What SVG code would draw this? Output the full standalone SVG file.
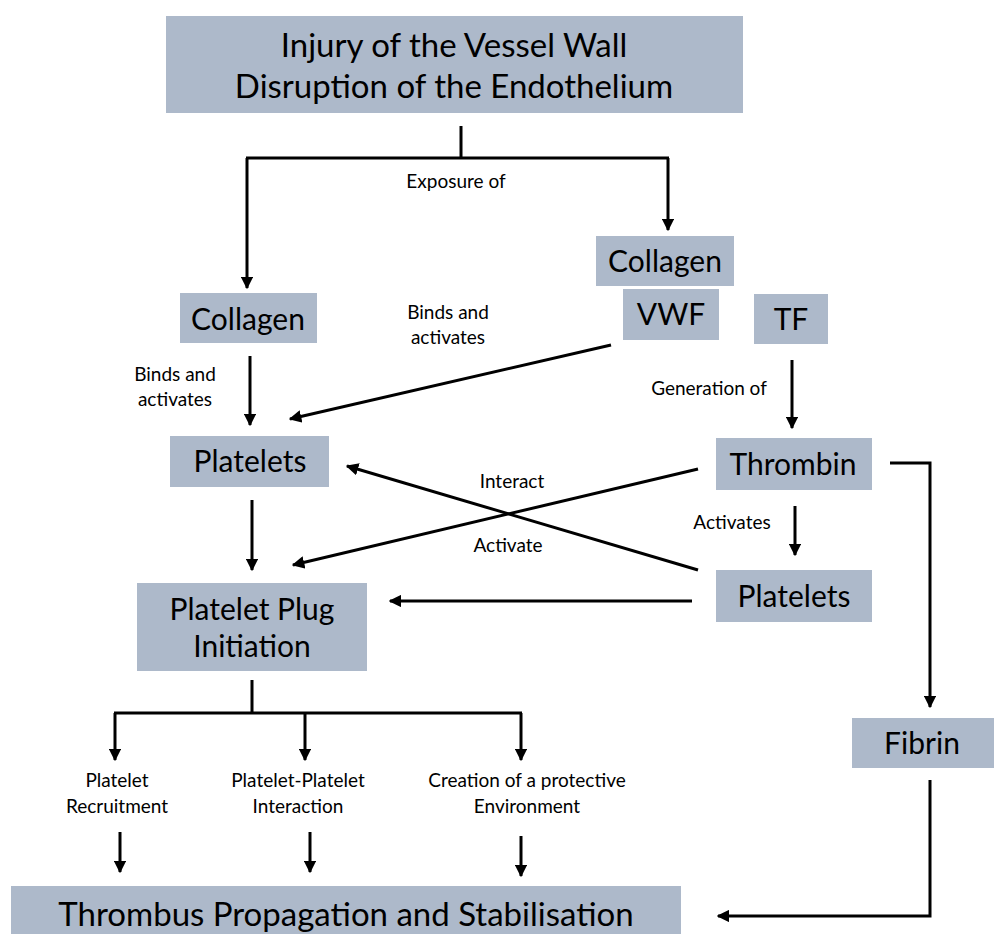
<svg xmlns="http://www.w3.org/2000/svg" width="994" height="934" viewBox="0 0 994 934">
<defs>
<marker id="ah" viewBox="0 0 10 10" refX="9" refY="5" markerWidth="4.2" markerHeight="4.2" orient="auto" markerUnits="strokeWidth">
<path d="M0,0 L10,5 L0,10 z" fill="#000"/>
</marker>
</defs>
<style>
.box{fill:#adb9ca}
.big{font-family:Lato,"Open Sans","Liberation Sans",sans-serif;font-size:33px;fill:#000;text-anchor:middle}
.mid{font-family:Lato,"Open Sans","Liberation Sans",sans-serif;font-size:30px;fill:#000;text-anchor:middle}
.sm{font-family:Lato,"Open Sans","Liberation Sans",sans-serif;font-size:19px;fill:#000;text-anchor:middle}
.c{fill:none;stroke:#000;stroke-width:3}
.a{fill:none;stroke:#000;stroke-width:3;marker-end:url(#ah)}
</style>
<rect width="994" height="934" fill="#fff"/>
<g id="injury"><rect class="box" x="166" y="16" width="577" height="97"/><text class="big" x="454" y="57">Injury of the Vessel Wall</text><text class="big" x="454" y="98">Disruption of the Endothelium</text></g>
<g id="collagen-right"><rect class="box" x="596" y="236" width="138" height="50"/><text class="mid" x="665" y="272">Collagen</text></g>
<g id="vwf"><rect class="box" x="623" y="289" width="96" height="51"/><text class="mid" x="671" y="325">VWF</text></g>
<g id="tf"><rect class="box" x="754" y="294" width="74" height="50"/><text class="mid" x="791" y="330">TF</text></g>
<g id="collagen-left"><rect class="box" x="180" y="293" width="137" height="50"/><text class="mid" x="248" y="330">Collagen</text></g>
<g id="platelets-left"><rect class="box" x="170" y="436" width="159" height="51"/><text class="mid" x="250" y="472">Platelets</text></g>
<g id="thrombin"><rect class="box" x="716" y="438" width="156" height="52"/><text class="mid" x="793" y="475">Thrombin</text></g>
<g id="platelets-right"><rect class="box" x="716" y="570" width="156" height="52"/><text class="mid" x="794" y="607">Platelets</text></g>
<g id="plug"><rect class="box" x="137" y="583" width="230" height="88"/><text class="mid" x="252" y="620">Platelet Plug</text><text class="mid" x="252" y="657">Initiation</text></g>
<g id="fibrin"><rect class="box" x="852" y="718" width="142" height="50"/><text class="mid" x="922" y="754">Fibrin</text></g>
<g id="thrombus"><rect class="box" x="11" y="886" width="670" height="48"/><text class="big" x="346" y="926">Thrombus Propagation and Stabilisation</text></g>
<g id="labels">
<text class="sm" x="456" y="188">Exposure of</text>
<text class="sm" x="448" y="319">Binds and</text><text class="sm" x="448" y="344">activates</text>
<text class="sm" x="175" y="381">Binds and</text><text class="sm" x="175" y="406">activates</text>
<text class="sm" x="709" y="395">Generation of</text>
<text class="sm" x="512" y="488">Interact</text>
<text class="sm" x="508" y="552">Activate</text>
<text class="sm" x="732" y="529">Activates</text>
<text class="sm" x="117" y="787">Platelet</text><text class="sm" x="117" y="813">Recruitment</text>
<text class="sm" x="298" y="787">Platelet-Platelet</text><text class="sm" x="298" y="813">Interaction</text>
<text class="sm" x="527" y="787">Creation of a protective</text><text class="sm" x="527" y="813">Environment</text>
</g>
<g id="connectors">
<path class="c" d="M461,126 V158 M246,158 H669"/>
<path class="a" d="M247,158 V288"/>
<path class="a" d="M668,158 V230"/>
<path class="a" d="M250,356 V425"/>
<path class="a" d="M611,345 L290,419"/>
<path class="a" d="M792,360 V428"/>
<path class="a" d="M252,500 V570"/>
<path class="a" d="M698,469 L293,565"/>
<path class="a" d="M698,570 L347,466"/>
<path class="a" d="M795,506 V555"/>
<path class="a" d="M692,601 H390"/>
<path class="a" d="M890,463 H930 V707"/>
<path class="c" d="M252,680 V713 M114,713 H522"/>
<path class="a" d="M115,713 V760"/>
<path class="a" d="M305,713 V760"/>
<path class="a" d="M521,713 V760"/>
<path class="a" d="M120,832 V872"/>
<path class="a" d="M310,832 V872"/>
<path class="a" d="M521,836 V876"/>
<path class="a" d="M930,780 V916 H718"/>
</g>
</svg>
